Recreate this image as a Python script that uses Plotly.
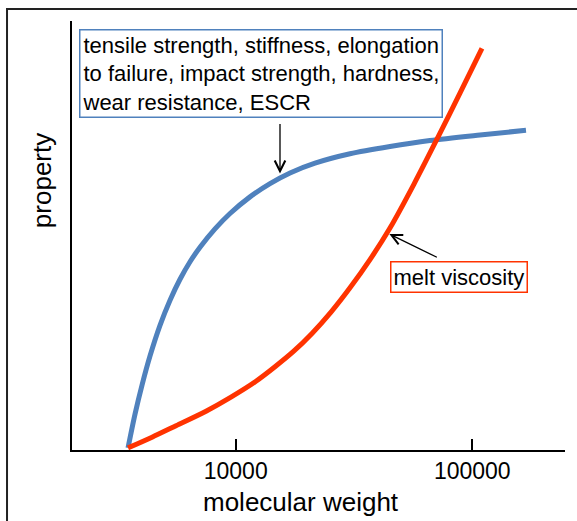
import math
import plotly.graph_objects as go

# Data (x = molecular weight, y = relative property, 0..100)
blue_mw = [3506, 3753, 4018, 4342, 4786, 5277, 5816, 6412, 7065, 8175, 9461, 11494,
           13964, 16965, 21640, 30420, 44890, 66260, 107800, 168700]
blue_prop = [0, 7.9, 14.7, 21.5, 28.7, 34.6, 39.5, 43.6, 47.0, 51.3, 54.9, 58.8,
             61.9, 64.4, 66.7, 68.9, 70.6, 72.0, 73.3, 74.4]

red_mw = [3506, 4429, 5594, 7490, 9552, 12180, 14660, 17640, 21010, 25280, 30420,
          36950, 44890, 56710, 71640, 88720, 109900]
red_prop = [0, 2.5, 5.2, 8.6, 11.9, 15.6, 19.0, 22.7, 26.8, 31.8, 37.5,
            44.1, 51.5, 61.8, 72.8, 83.1, 93.6]

tick_vals = [10000, 100000]
tick_text = ["10000", "100000"]

box1_text = "tensile strength, stiffness, elongation<br>to failure, impact strength, hardness,<br>wear resistance, ESCR"
box2_text = "melt viscosity"
x_title = "molecular weight"
y_title = "property"

# arrow targets (data coords)
arrow1_target = (15390, 64.3)
arrow2_target = (44630, 50.1)

FONT = "Liberation Sans, Arial, sans-serif"
BLUE = "#4F81BD"
RED = "#FF3300"

fig = go.Figure()
fig.add_trace(go.Scatter(x=blue_mw, y=blue_prop, mode="lines",
                         line=dict(color=BLUE, width=5, shape="spline", smoothing=0.8),
                         hoverinfo="skip"))
fig.add_trace(go.Scatter(x=red_mw, y=red_prop, mode="lines",
                         line=dict(color=RED, width=5, shape="spline", smoothing=0.8),
                         hoverinfo="skip"))

fig.update_layout(
    width=577, height=521,
    margin=dict(l=72, r=12, t=21, b=71, autoexpand=False),
    paper_bgcolor="white", plot_bgcolor="white",
    showlegend=False,
    font=dict(family=FONT, color="black"),
    xaxis=dict(type="log", range=[3.308, 5.392], tickvals=tick_vals, ticktext=tick_text,
               ticks="inside", ticklen=11, tickwidth=1.5, tickcolor="black",
               showline=True, linecolor="black", linewidth=1.5,
               showgrid=False, zeroline=False, tickfont=dict(size=23, family=FONT, color="black")),
    yaxis=dict(range=[-0.5, 100], showticklabels=False, ticks="",
               showline=True, linecolor="black", linewidth=1.5,
               showgrid=False, zeroline=False),
)

# outer frame
fig.add_shape(type="rect", xref="paper", yref="paper",
              x0=-0.1318, x1=1.2, y0=-0.3, y1=1.028,
              line=dict(color="#222222", width=2), fillcolor="rgba(0,0,0,0)", layer="below")

# axis titles
fig.add_annotation(text=y_title, xref="paper", yref="paper", x=-0.0609, y=0.629,
                   xanchor="center", yanchor="middle",
                   textangle=-90, showarrow=False, font=dict(size=26, family=FONT, color="black"))
fig.add_annotation(text=x_title, xref="paper", yref="paper", x=0.4655, y=-0.1212,
                   xanchor="center", yanchor="middle",
                   showarrow=False, font=dict(size=26, family=FONT, color="black"))

# boxes
fig.add_annotation(text=box1_text, xref="paper", yref="paper", x=0.0142, y=0.9814,
                   xanchor="left", yanchor="top", align="left", showarrow=False,
                   bordercolor=BLUE, borderwidth=1.5, borderpad=2, bgcolor="white",
                   font=dict(size=22, family=FONT, color="black"))
fig.add_annotation(text=box2_text, xref="paper", yref="paper", x=0.645, y=0.4406,
                   xanchor="left", yanchor="top", align="left", showarrow=False,
                   bordercolor=RED, borderwidth=1.5, borderpad=2, bgcolor="white",
                   font=dict(size=22, family=FONT, color="black"))

# arrows
fig.add_annotation(text="", x=math.log10(arrow1_target[0]), y=arrow1_target[1],
                   xref="x", yref="y", showarrow=True, ax=0, ay=-51,
                   arrowhead=5, arrowsize=1.6, arrowwidth=1.3, arrowcolor="black")
fig.add_annotation(text="", x=math.log10(arrow2_target[0]), y=arrow2_target[1],
                   xref="x", yref="y", showarrow=True, ax=49, ay=24,
                   arrowhead=5, arrowsize=1.6, arrowwidth=1.3, arrowcolor="black")

fig.write_html("out.html", config={"displayModeBar": False},
               post_script="document.body.style.margin='0';")
